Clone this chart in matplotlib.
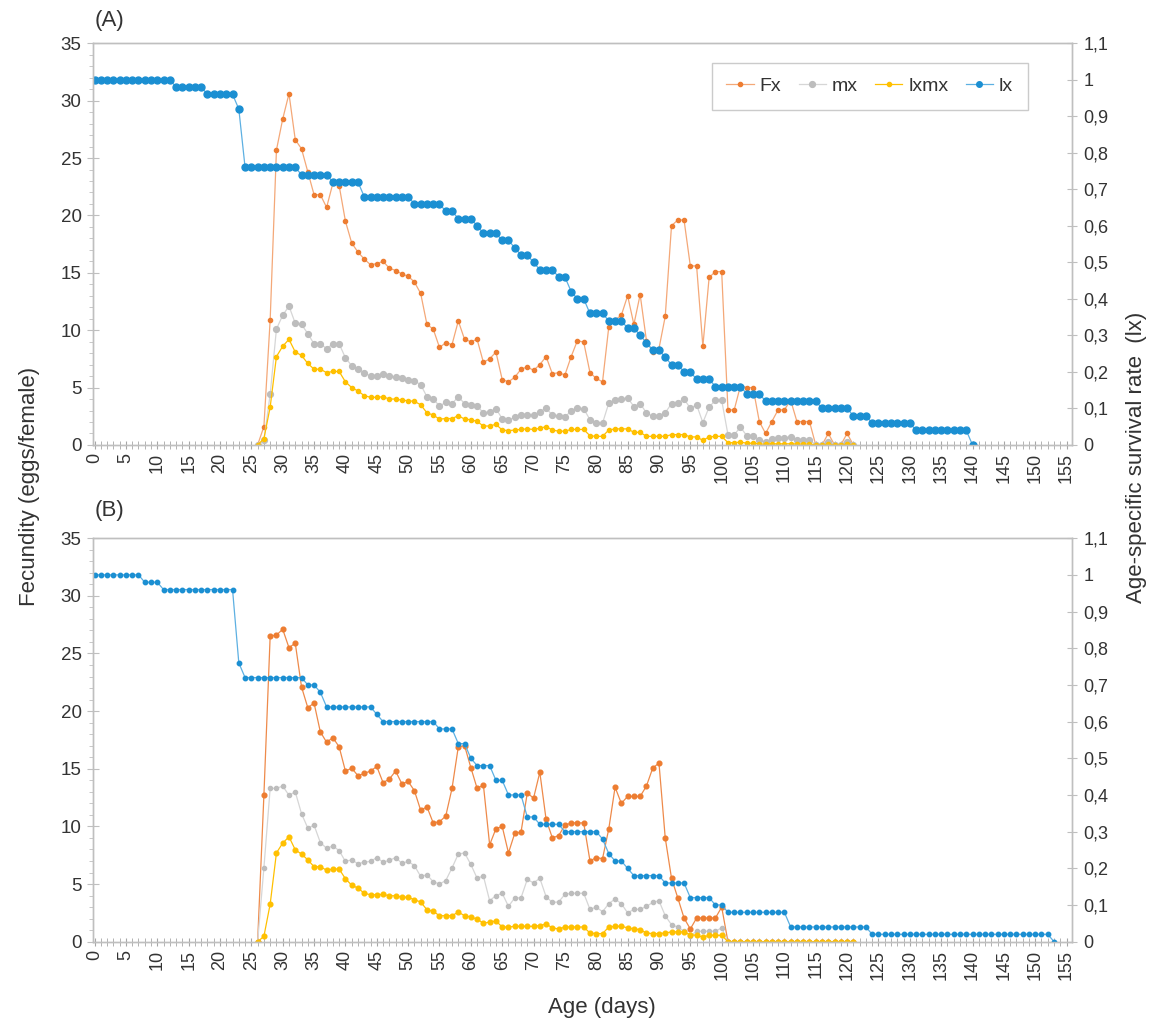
import numpy as np
import matplotlib
matplotlib.use("Agg")
import matplotlib.pyplot as plt
from matplotlib.ticker import MultipleLocator, FuncFormatter
from matplotlib.lines import Line2D

plt.rcParams['font.family'] = ['Liberation Sans', 'DejaVu Sans']

# ---- panel A data ----
lx_a = [1.00, 1.00, 1.00, 1.00, 1.00, 1.00, 1.00, 1.00, 1.00, 1.00, 1.00, 1.00, 1.00,
        0.98, 0.98, 0.98, 0.98, 0.98,
        0.96, 0.96, 0.96, 0.96, 0.96,
        0.92,
        0.76, 0.76, 0.76, 0.76, 0.76, 0.76, 0.76, 0.76, 0.76,
        0.74, 0.74, 0.74, 0.74, 0.74,
        0.72, 0.72, 0.72, 0.72, 0.72,
        0.68, 0.68, 0.68, 0.68, 0.68, 0.68, 0.68, 0.68,
        0.66, 0.66, 0.66, 0.66, 0.66,
        0.64, 0.64,
        0.62, 0.62, 0.62,
        0.60,
        0.58, 0.58, 0.58,
        0.56, 0.56,
        0.54,
        0.52, 0.52,
        0.50,
        0.48, 0.48, 0.48,
        0.46, 0.46,
        0.42,
        0.40, 0.40,
        0.36, 0.36, 0.36,
        0.34, 0.34, 0.34,
        0.32, 0.32,
        0.30,
        0.28,
        0.26, 0.26,
        0.24,
        0.22, 0.22,
        0.20, 0.20,
        0.18, 0.18, 0.18,
        0.16, 0.16, 0.16, 0.16, 0.16,
        0.14, 0.14, 0.14,
        0.12, 0.12, 0.12, 0.12, 0.12, 0.12, 0.12, 0.12, 0.12,
        0.10, 0.10, 0.10, 0.10, 0.10,
        0.08, 0.08, 0.08,
        0.06, 0.06, 0.06, 0.06, 0.06, 0.06, 0.06,
        0.04, 0.04, 0.04, 0.04, 0.04, 0.04, 0.04, 0.04, 0.04,
        0.0]

# reproductive ages 26..121
fx_a = [0, 1.6, 10.9, 25.7, 28.4, 30.6, 26.6, 25.8, 23.8, 21.8,
        21.8, 20.7, 22.8, 22.6, 19.5, 17.6, 16.8, 16.2, 15.7, 15.8,
        16.0, 15.4, 15.2, 14.9, 14.7, 14.2, 13.2, 10.5, 10.1, 8.5,
        8.9, 8.75, 10.8, 9.2, 9.0, 9.2, 7.2, 7.5, 8.1, 5.7,
        5.5, 5.9, 6.6, 6.8, 6.5, 7.0, 7.7, 6.2, 6.3, 6.1,
        7.7, 9.1, 8.95, 6.3, 5.8, 5.5, 10.3, 10.9, 11.3, 13.0,
        10.5, 13.1, 9.1, 8.1, 8.4, 11.2, 19.1, 19.6, 19.6, 15.6,
        15.6, 8.6, 14.6, 15.1, 15.1, 3.06, 3.06, 5.16, 5.0, 5.0,
        2.04, 1.0, 2.04, 3.06, 3.06, 3.9, 2.04, 2.04, 2.04, 0,
        0, 1.0, 0, 0, 1.0, 0]
mx_a = [0, 0.4, 4.4, 10.1, 11.3, 12.1, 10.6, 10.5, 9.7, 8.8,
        8.8, 8.4, 8.8, 8.8, 7.6, 6.9, 6.6, 6.3, 6.0, 6.0,
        6.2, 6.0, 5.9, 5.8, 5.7, 5.6, 5.25, 4.2, 4.0, 3.4,
        3.7, 3.6, 4.2, 3.6, 3.5, 3.4, 2.8, 2.9, 3.15, 2.3,
        2.2, 2.4, 2.6, 2.6, 2.6, 2.9, 3.2, 2.6, 2.5, 2.4,
        3.0, 3.2, 3.15, 2.2, 1.95, 1.9, 3.65, 3.9, 4.0, 4.1,
        3.35, 3.6, 2.8, 2.5, 2.55, 2.8, 3.6, 3.65, 4.0, 3.2,
        3.5, 1.95, 3.3, 3.9, 3.9, 0.9, 0.9, 1.55, 0.8, 0.8,
        0.4, 0.3, 0.5, 0.6, 0.6, 0.73, 0.45, 0.45, 0.45, 0,
        0, 0.3, 0, 0, 0.3, 0]
lxmx_a = [0, 0.55, 3.3, 7.7, 8.6, 9.2, 8.1, 7.8, 7.1, 6.6,
          6.6, 6.3, 6.4, 6.4, 5.5, 5.0, 4.7, 4.3, 4.15, 4.15,
          4.2, 4.0, 4.0, 3.9, 3.85, 3.8, 3.5, 2.8, 2.6, 2.25,
          2.3, 2.3, 2.55, 2.25, 2.2, 2.05, 1.65, 1.65, 1.8, 1.3,
          1.25, 1.3, 1.35, 1.4, 1.35, 1.45, 1.6, 1.3, 1.2, 1.2,
          1.35, 1.35, 1.35, 0.8, 0.75, 0.75, 1.3, 1.4, 1.4, 1.4,
          1.1, 1.1, 0.75, 0.75, 0.75, 0.75, 0.9, 0.9, 0.9, 0.7,
          0.7, 0.4, 0.7, 0.75, 0.75, 0.2, 0.2, 0.25, 0.15, 0.15,
          0.1, 0.05, 0.1, 0.1, 0.1, 0.1, 0.08, 0.08, 0.08, 0,
          0, 0.05, 0, 0, 0.05, 0]

# ---- panel B data ----
lx_b = [1.00, 1.00, 1.00, 1.00, 1.00, 1.00, 1.00, 1.00,
        0.98, 0.98, 0.98,
        0.96, 0.96, 0.96, 0.96, 0.96, 0.96, 0.96, 0.96, 0.96, 0.96, 0.96, 0.96,
        0.76,
        0.72, 0.72, 0.72, 0.72, 0.72, 0.72, 0.72, 0.72, 0.72, 0.72,
        0.70, 0.70,
        0.68,
        0.64, 0.64, 0.64, 0.64, 0.64, 0.64, 0.64, 0.64,
        0.62,
        0.60, 0.60, 0.60, 0.60, 0.60, 0.60, 0.60, 0.60, 0.60,
        0.58, 0.58, 0.58,
        0.54, 0.54,
        0.50,
        0.48, 0.48, 0.48,
        0.44, 0.44,
        0.40, 0.40, 0.40,
        0.34, 0.34,
        0.32, 0.32, 0.32, 0.32,
        0.30, 0.30, 0.30, 0.30, 0.30, 0.30,
        0.28,
        0.24,
        0.22, 0.22,
        0.20,
        0.18, 0.18, 0.18, 0.18, 0.18,
        0.16, 0.16, 0.16, 0.16,
        0.12, 0.12, 0.12, 0.12,
        0.10, 0.10,
        0.08, 0.08, 0.08, 0.08, 0.08, 0.08, 0.08, 0.08, 0.08, 0.08,
        0.04, 0.04, 0.04, 0.04, 0.04, 0.04, 0.04, 0.04, 0.04, 0.04, 0.04, 0.04, 0.04,
        0.02, 0.02, 0.02, 0.02, 0.02, 0.02, 0.02, 0.02, 0.02, 0.02,
        0.02, 0.02, 0.02, 0.02, 0.02, 0.02, 0.02, 0.02, 0.02, 0.02,
        0.02, 0.02, 0.02, 0.02, 0.02, 0.02, 0.02, 0.02, 0.02,
        0.0]

fx_b = [0, 12.7, 26.5, 26.6, 27.1, 25.5, 25.9, 22.1, 20.3, 20.7,
        18.2, 17.3, 17.7, 16.9, 14.8, 15.05, 14.4, 14.6, 14.8, 15.2,
        13.8, 14.1, 14.8, 13.7, 13.9, 13.1, 11.4, 11.7, 10.3, 10.4,
        10.9, 13.3, 16.9, 17.0, 15.1, 13.3, 13.6, 8.4, 9.8, 10.0,
        7.7, 9.4, 9.5, 12.9, 12.45, 14.7, 10.6, 9.0, 9.2, 10.1,
        10.3, 10.3, 10.3, 7.0, 7.3, 7.2, 9.8, 13.4, 12.0, 12.6,
        12.6, 12.6, 13.5, 15.05, 15.5, 9.0, 5.5, 3.8, 2.05, 1.1,
        2.05, 2.05, 2.05, 2.05, 3.0, 0, 0, 0, 0, 0,
        0, 0, 0, 0, 0, 0, 0, 0, 0, 0,
        0, 0, 0, 0, 0, 0]
mx_b = [0, 6.4, 13.3, 13.3, 13.5, 12.7, 13.0, 11.1, 9.85, 10.1,
        8.6, 8.1, 8.3, 7.9, 6.96, 7.1, 6.76, 6.9, 6.96, 7.3,
        6.9, 7.05, 7.3, 6.8, 6.96, 6.6, 5.66, 5.8, 5.2, 5.0,
        5.3, 6.4, 7.6, 7.7, 6.7, 5.5, 5.7, 3.55, 4.0, 4.2,
        3.06, 3.8, 3.8, 5.4, 5.1, 5.5, 3.9, 3.4, 3.45, 4.1,
        4.2, 4.2, 4.2, 2.8, 3.0, 2.6, 3.3, 3.7, 3.3, 2.5,
        2.8, 2.8, 3.06, 3.4, 3.55, 2.25, 1.47, 1.27, 0.9, 0.5,
        0.9, 0.9, 0.9, 0.9, 1.2, 0, 0, 0, 0, 0,
        0, 0, 0, 0, 0, 0, 0, 0, 0, 0,
        0, 0, 0, 0, 0, 0]
lxmx_b = [0, 0.46, 3.26, 7.7, 8.55, 9.1, 7.97, 7.6, 7.1, 6.5,
          6.5, 6.2, 6.3, 6.3, 5.46, 4.9, 4.65, 4.2, 4.07, 4.07,
          4.1, 3.98, 3.98, 3.87, 3.85, 3.64, 3.44, 2.77, 2.63, 2.25,
          2.25, 2.25, 2.57, 2.25, 2.14, 1.96, 1.6, 1.7, 1.8, 1.27,
          1.27, 1.33, 1.33, 1.33, 1.33, 1.4, 1.53, 1.2, 1.1, 1.27,
          1.27, 1.27, 1.27, 0.75, 0.7, 0.7, 1.27, 1.33, 1.33, 1.2,
          1.1, 1.05, 0.75, 0.7, 0.7, 0.75, 0.85, 0.85, 0.85, 0.6,
          0.55, 0.4, 0.55, 0.55, 0.55, 0, 0, 0, 0, 0,
          0, 0, 0, 0, 0, 0, 0, 0, 0, 0,
          0, 0, 0, 0, 0, 0]

first_rep_day = 26

ORANGE = '#ED7D31'
GRAY = '#BDBDBD'
GOLD = '#FFC000'
BLUE = '#1B8FD2'
SPINE = '#BFBFBF'
TXT = '#333333'


def style_axes(ax, ax2):
    ax.set_xlim(-0.3, 155.8)
    ax.set_ylim(0, 35)
    ax2.set_ylim(0, 1.1)
    for a in (ax, ax2):
        for s in a.spines.values():
            s.set_color(SPINE)
            s.set_linewidth(1.0)
    ax.yaxis.set_major_locator(MultipleLocator(5))
    ax.yaxis.set_minor_locator(MultipleLocator(1))
    ax.xaxis.set_major_locator(MultipleLocator(5))
    ax.xaxis.set_minor_locator(MultipleLocator(1))
    ax.tick_params(axis='y', which='major', direction='inout', length=8,
                   color=SPINE, labelsize=13.5, labelcolor=TXT, pad=4)
    ax.tick_params(axis='y', which='minor', direction='out', length=3, color=SPINE)
    ax.tick_params(axis='x', which='both', direction='inout', length=5.5,
                   color='#A6A6A6', labelsize=13, labelcolor=TXT,
                   labelrotation=90, pad=3)
    ax2.yaxis.set_major_locator(MultipleLocator(0.1))
    ax2.yaxis.set_major_formatter(
        FuncFormatter(lambda v, _: ('%g' % round(v, 1)).replace('.', ',')))
    ax2.tick_params(axis='y', direction='inout', length=7, color=SPINE,
                    labelsize=13, labelcolor=TXT, pad=5)


def draw_panel(ax, lx, fx, mx, lxmx, sizes, fx_line):
    ax2 = ax.twinx()
    lx_days = np.arange(len(lx))
    rep_days = np.arange(first_rep_day, first_rep_day + len(fx))
    ax.plot(rep_days, fx, color=fx_line, lw=0.9, marker='o', ms=sizes[0],
            mfc=ORANGE, mec=ORANGE)
    ax.plot(rep_days, mx, color='#D6D6D6', lw=0.9, marker='o', ms=sizes[1],
            mfc=GRAY, mec=GRAY)
    ax.plot(rep_days, lxmx, color=GOLD, lw=0.9, marker='o', ms=sizes[2],
            mfc=GOLD, mec=GOLD)
    ax2.plot(lx_days, lx, color='#5DB0E2', lw=0.9, marker='o', ms=sizes[3],
             mfc=BLUE, mec=BLUE)
    style_axes(ax, ax2)
    return ax2


fig = plt.figure(figsize=(11.53, 10.25), dpi=100)
ax_a = fig.add_axes([0.0804, 0.5659, 0.849, 0.3919])
ax_b = fig.add_axes([0.0804, 0.0813, 0.849, 0.3936])

ax2_a = draw_panel(ax_a, lx_a, fx_a, mx_a, lxmx_a, (3.0, 4.2, 3.0, 5.0), '#F4A878')
ax2_b = draw_panel(ax_b, lx_b, fx_b, mx_b, lxmx_b, (3.4, 3.0, 3.4, 3.2), '#EE8A4A')

handles = [
    Line2D([], [], color='#F4A878', lw=0.9, marker='o', ms=3.0, mfc=ORANGE, mec=ORANGE),
    Line2D([], [], color='#D6D6D6', lw=0.9, marker='o', ms=4.2, mfc=GRAY, mec=GRAY),
    Line2D([], [], color=GOLD, lw=0.9, marker='o', ms=3.0, mfc=GOLD, mec=GOLD),
    Line2D([], [], color='#5DB0E2', lw=0.9, marker='o', ms=4.0, mfc=BLUE, mec=BLUE),
]
leg = ax2_a.legend(handles, ['Fx', 'mx', 'lxmx', 'lx'], ncol=4, loc='upper right',
                   bbox_to_anchor=(0.955, 0.951), borderaxespad=0, fontsize=14,
                   frameon=True, fancybox=False, edgecolor=SPINE, handlelength=1.4,
                   handletextpad=0.3, columnspacing=0.9, borderpad=0.75)
leg.get_frame().set_linewidth(1.0)
for t in leg.get_texts():
    t.set_color(TXT)

fig.text(0.0824, 0.980, '(A)', fontsize=16, color=TXT, ha='left', va='center')
fig.text(0.0824, 0.5024, '(B)', fontsize=16, color=TXT, ha='left', va='center')
fig.text(0.026, 0.525, 'Fecundity (eggs/female)', fontsize=16, color=TXT,
         rotation=90, ha='center', va='center')
fig.text(0.986, 0.554, 'Age-specific survival rate  (lx)', fontsize=16, color=TXT,
         rotation=90, ha='center', va='center')
fig.text(0.522, 0.0166, 'Age (days)', fontsize=16, color=TXT, ha='center', va='center')

fig.savefig('out.png', dpi=100)
